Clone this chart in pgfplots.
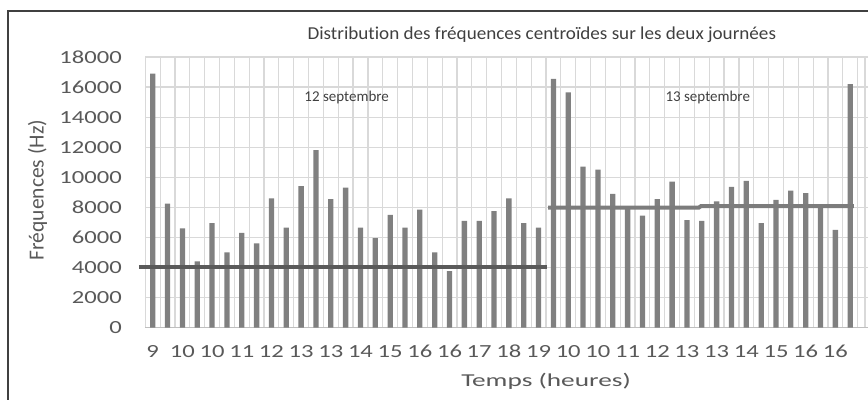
\documentclass[border=0pt]{standalone}
\usepackage{fontspec}
\setmainfont{Carlito}[Ligatures=NoCommon]
\newfontfamily\tickfam{Carlito}[FakeStretch=1.33]
\newfontfamily\xlabfam{Carlito}[FakeStretch=1.5]
\newfontfamily\titlefam{Carlito}[FakeStretch=1.05, Ligatures=NoCommon]
\usepackage{pgfplots}
\pgfplotsset{compat=1.18}
\definecolor{bargray}{HTML}{808080}
\definecolor{txtgray}{HTML}{595959}
\definecolor{gridgray}{HTML}{D9D9D9}
\definecolor{axisgray}{HTML}{BFBFBF}
\definecolor{linedark}{HTML}{5A5A5A}
\definecolor{linelight}{HTML}{7C7C7C}
\definecolor{framegray}{HTML}{404040}
\begin{document}
\begin{tikzpicture}
\useasboundingbox (0,0) rectangle (868bp,400bp);
\clip (0,0) rectangle (868bp,400bp);
\draw[framegray, line width=1.2bp] (8bp,0) -- (8bp,389bp) -- (870bp,389bp);
\node[anchor=base, font=\titlefam\fontsize{18.2bp}{20bp}\selectfont, text=framegray] at (541.8bp,360bp) {Distribution des fréquences centroïdes sur les deux journées};
\begin{axis}[
  at={(145.3bp,72.5bp)}, anchor=south west,
  scale only axis, width=722.7bp, height=270.5bp,
  xmin=0.5, xmax=49.2, ymin=0, ymax=18000,
  clip=false,
  axis lines=left, axis line style={-},
  x axis line style={draw=axisgray, line width=1.2bp},
  y axis line style={draw=none},
  major tick length=0pt, minor tick length=0pt,
  xtick={1,3,...,47},
  xticklabels={9,10,10,11,12,13,13,14,15,16,16,17,18,19,10,10,11,12,13,13,14,15,16,16},
  minor xtick={0.5,1.5,...,48.5,49.0},
  xminorgrids, ymajorgrids,
  minor grid style={draw=gridgray, line width=1.2bp},
  major grid style={draw=gridgray, line width=1.2bp},
  ytick={0,2000,...,18000},
  scaled y ticks=false,
  /pgf/number format/fixed,
  /pgf/number format/1000 sep={},
  /pgf/number format/assume math mode=true,
  xticklabel style={font=\tickfam\fontsize{18.5bp}{20bp}\selectfont, text=txtgray, anchor=north, inner sep=0pt, yshift=-17.5bp},
  yticklabel style={font=\tickfam\fontsize{18.5bp}{20bp}\selectfont, text=txtgray, anchor=east, inner sep=0pt, xshift=-23.3bp},
  xlabel={Temps (heures)},
  xlabel style={font=\xlabfam\fontsize{18.2bp}{20bp}\selectfont, text=txtgray, at={(axis description cs:0.5545,-0.2163)}, anchor=base},
  ylabel={Fréquences (Hz)},
  ylabel style={font=\fontsize{21.5bp}{23bp}\selectfont, text=txtgray, at={(axis description cs:-0.149,0.508)}, anchor=center, rotate=0},
]
\addplot[ybar, bar width=5.3bp, fill=bargray, draw=none] coordinates {
(1,16900) (2,8250) (3,6600) (4,4400) (5,6950) (6,5000) (7,6300) (8,5600)
(9,8600) (10,6650) (11,9400) (12,11800) (13,8550) (14,9300) (15,6650) (16,5950)
(17,7500) (18,6650) (19,7850) (20,5000) (21,3750) (22,7100) (23,7100) (24,7750)
(25,8600) (26,6950) (27,6650) (28,16550) (29,15650) (30,10700) (31,10500) (32,8900)
(33,7950) (34,7450) (35,8550) (36,9700) (37,7150) (38,7100) (39,8400) (40,9350)
(41,9750) (42,6950) (43,8500) (44,9100) (45,8950) (46,8000) (47,6500) (48,16200)
};
\addplot[linedark, line width=4bp] coordinates {(0.075,4000) (27.55,4000)};
\addplot[linelight, line width=4bp] coordinates {(27.64,7980) (37.8,7980) (37.95,8080) (48.25,8080)};
\node[font=\fontsize{15bp}{17bp}\selectfont, text=framegray] at (axis cs:14.07,15300) {12 septembre};
\node[font=\fontsize{15bp}{17bp}\selectfont, text=framegray] at (axis cs:38.4,15300) {13 septembre};
\end{axis}
\end{tikzpicture}
\end{document}
